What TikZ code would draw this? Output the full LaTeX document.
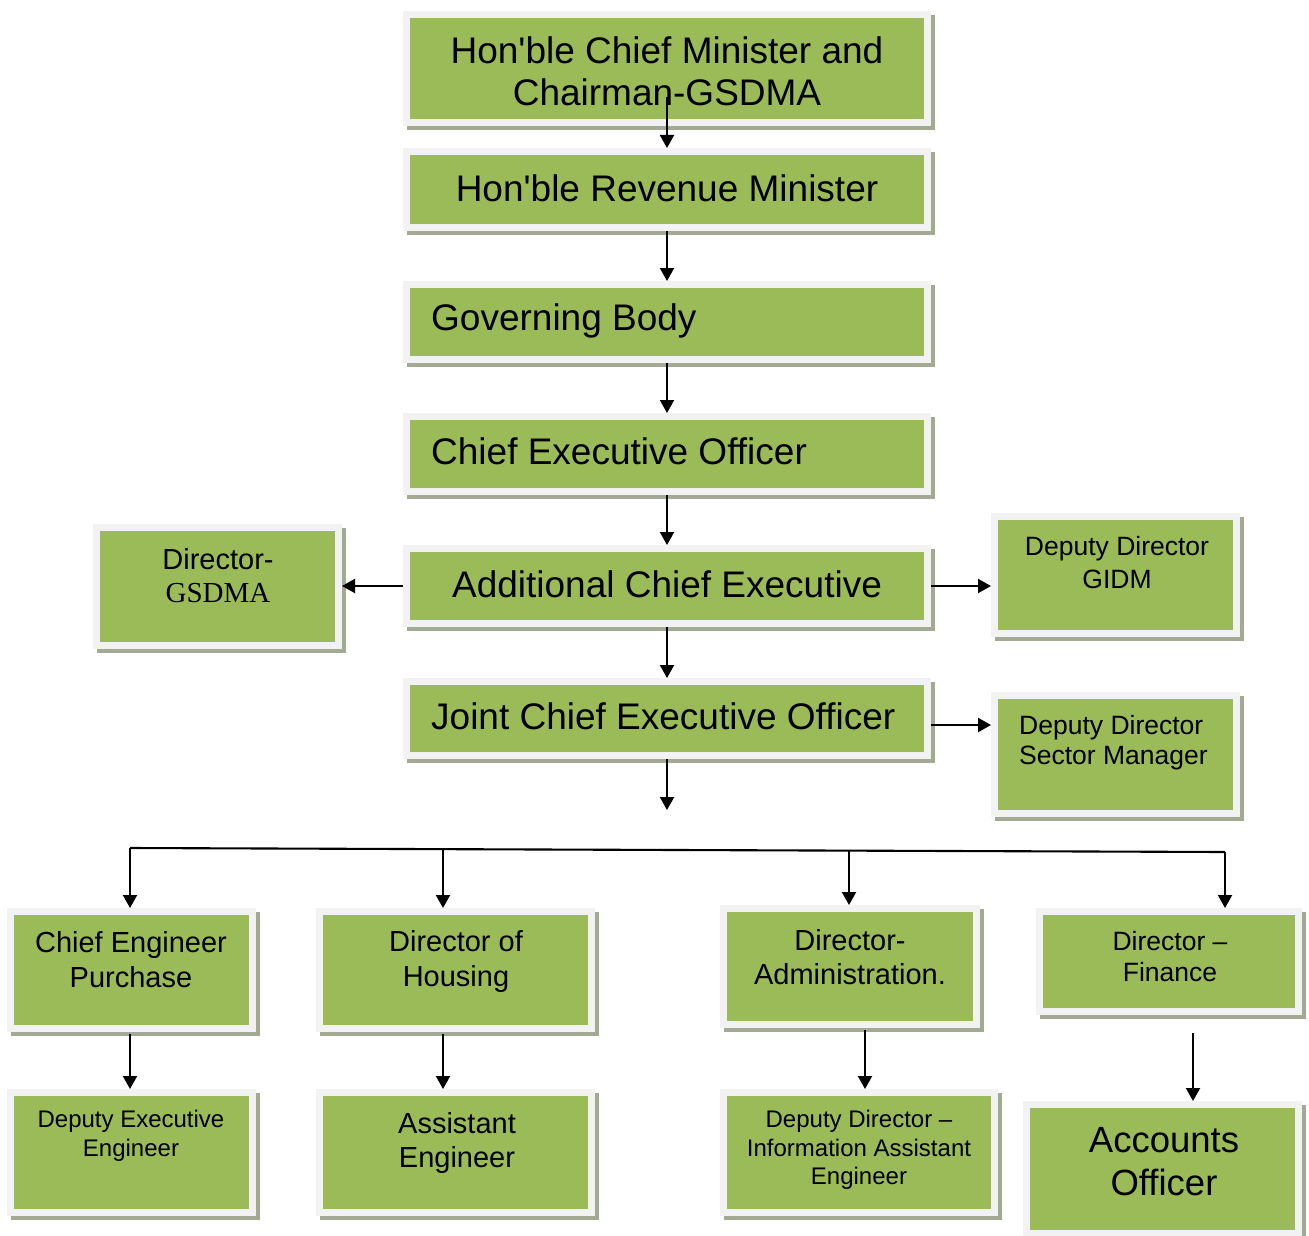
\documentclass[tikz,border=0pt]{standalone}
\usepackage{fontspec}
\setmainfont{Liberation Sans}[Ligatures=TeXOff]
\newfontfamily\serifgs{Liberation Serif}
\usetikzlibrary{arrows.meta}
\definecolor{boxgreen}{HTML}{9BBB59}
\definecolor{framegray}{HTML}{F2F2F2}
\definecolor{shadowgray}{HTML}{A3AA94}
\tikzset{
 gbox/.style={fill=boxgreen, draw=framegray, line width=7pt, inner sep=0pt, outer sep=3.5pt,
   preaction={fill=shadowgray, draw=shadowgray, line width=7pt, transform canvas={shift={(4pt,-4pt)}}}},
 txt/.style={inner sep=0pt, align=center, text=black},
 ltxt/.style={inner sep=0pt, align=left, text=black, anchor=west},
 arr/.style={line width=2.1pt, -{Triangle[length=13pt,width=14pt]}},
 ln/.style={line width=2.1pt},
 fbig/.style={font=\fontsize{37}{42}\selectfont},
}
\begin{document}
\begin{tikzpicture}[x=1pt,y=-1pt]
\useasboundingbox (0,0) rectangle (1309,1236);
% boxes
\node[gbox, minimum width=521pt, minimum height=108pt] (b1) at (667,68.5) {};
\node[gbox, minimum width=521pt, minimum height=76pt] (b2) at (667,189.5) {};
\node[gbox, minimum width=521pt, minimum height=75pt] (b3) at (667,322) {};
\node[gbox, minimum width=521pt, minimum height=75pt] (b4) at (667,454) {};
\node[gbox, minimum width=521pt, minimum height=75pt] (b5) at (667,586) {};
\node[gbox, minimum width=521pt, minimum height=74pt] (b6) at (667,718.5) {};
\node[gbox, minimum width=242pt, minimum height=118pt] (dg) at (217.5,586.5) {};
\node[gbox, minimum width=242pt, minimum height=117pt] (gidm) at (1115.5,575) {};
\node[gbox, minimum width=242pt, minimum height=118pt] (sec) at (1115.5,754.5) {};
\node[gbox, minimum width=242pt, minimum height=117pt] (ce) at (131.5,970) {};
\node[gbox, minimum width=272pt, minimum height=117pt] (dh) at (455.5,970) {};
\node[gbox, minimum width=253pt, minimum height=116pt] (da) at (850,966.5) {};
\node[gbox, minimum width=259pt, minimum height=100pt] (df) at (1169,961.5) {};
\node[gbox, minimum width=242pt, minimum height=120pt] (de) at (131.5,1152.5) {};
\node[gbox, minimum width=272pt, minimum height=120pt] (ae) at (455.5,1152.5) {};
\node[gbox, minimum width=271pt, minimum height=120pt] (dd) at (859,1152.5) {};
\node[gbox, minimum width=272pt, minimum height=129pt] (ao) at (1162.5,1169) {};
% texts
\node[txt, fbig] (t1) at (667,71) {Hon'ble Chief Minister and\\Chairman-GSDMA};
\node[txt, fbig] (t2) at (667,188) {Hon'ble Revenue Minister};
\node[ltxt, fbig] (t3) at (431,321) {Governing Body};
\node[ltxt, fbig] (t4) at (431,451) {Chief Executive Officer};
\node[txt, fbig] (t5) at (667,584) {Additional Chief Executive};
\node[ltxt, fbig] (t6) at (431,716) {Joint Chief Executive Officer};
\node[txt, font=\fontsize{29}{33}\selectfont] (tdg) at (218,576) {Director-\\{\serifgs GSDMA}};
\node[txt, font=\fontsize{26.5}{33}\selectfont] (tgidm) at (1117,563) {Deputy Director\\GIDM};
\node[ltxt, font=\fontsize{26.5}{30}\selectfont] (tsec) at (1019,743) {Deputy Director\\Sector Manager};
\node[txt, font=\fontsize{29}{35}\selectfont] (tce) at (131,960) {Chief Engineer\\Purchase};
\node[txt, font=\fontsize{29}{35}\selectfont] (tdh) at (456,961) {Director of\\Housing};
\node[txt, font=\fontsize{29}{34}\selectfont] (tda) at (850,957) {Director-\\Administration.};
\node[txt, font=\fontsize{26.5}{31}\selectfont] (tdf) at (1170,957) {Director –\\Finance};
\node[txt, font=\fontsize{24}{29}\selectfont] (tde) at (131,1136) {Deputy Executive\\Engineer};
\node[txt, font=\fontsize{29}{34}\selectfont] (tae) at (457,1143) {Assistant\\Engineer};
\node[txt, font=\fontsize{24}{28.5}\selectfont] (tdd) at (859,1150) {Deputy Director –\\Information Assistant\\Engineer};
\node[txt, font=\fontsize{36.5}{43}\selectfont] (tao) at (1164,1162) {Accounts\\Officer};
% connectors
\coordinate (b1a) at (667,97);
\draw[arr] (b1a) -- (b2.north);
\draw[arr] (b2.south) -- (b3.north);
\draw[arr] (b3.south) -- (b4.north);
\draw[arr] (b4.south) -- (b5.north);
\draw[arr] (b5.south) -- (b6.north);
\draw[arr] (b5.west) -- (b5.west -| dg.east);
\draw[arr] (b5.east) -- (b5.east -| gidm.west);
\draw[arr] ([yshift=-6.5pt]b6.east) -- ([yshift=-6.5pt]b6.east -| sec.west);
\coordinate (b6d) at (667,810);
\draw[arr] (b6.south) -- (b6d);
\coordinate (busL) at (130,848);
\coordinate (busR) at (1225,852);
\draw[ln] (busL) -- (busR);
\coordinate (j2) at (443,849.1);
\coordinate (j3) at (849,850.6);
\draw[arr] (busL) -- (busL |- ce.north);
\draw[arr] (j2) -- (j2 |- dh.north);
\draw[arr] (j3) -- (j3 |- da.north);
\draw[arr] (busR) -- (busR |- df.north);
\coordinate (c1) at (130,1034);
\draw[arr] (c1) -- (c1 |- de.north);
\coordinate (c2) at (443,1034);
\draw[arr] (c2) -- (c2 |- ae.north);
\coordinate (c3) at (865,1030);
\draw[arr] (c3) -- (c3 |- dd.north);
\coordinate (c4) at (1193,1033);
\draw[arr] (c4) -- (c4 |- ao.north);
\end{tikzpicture}
\end{document}
